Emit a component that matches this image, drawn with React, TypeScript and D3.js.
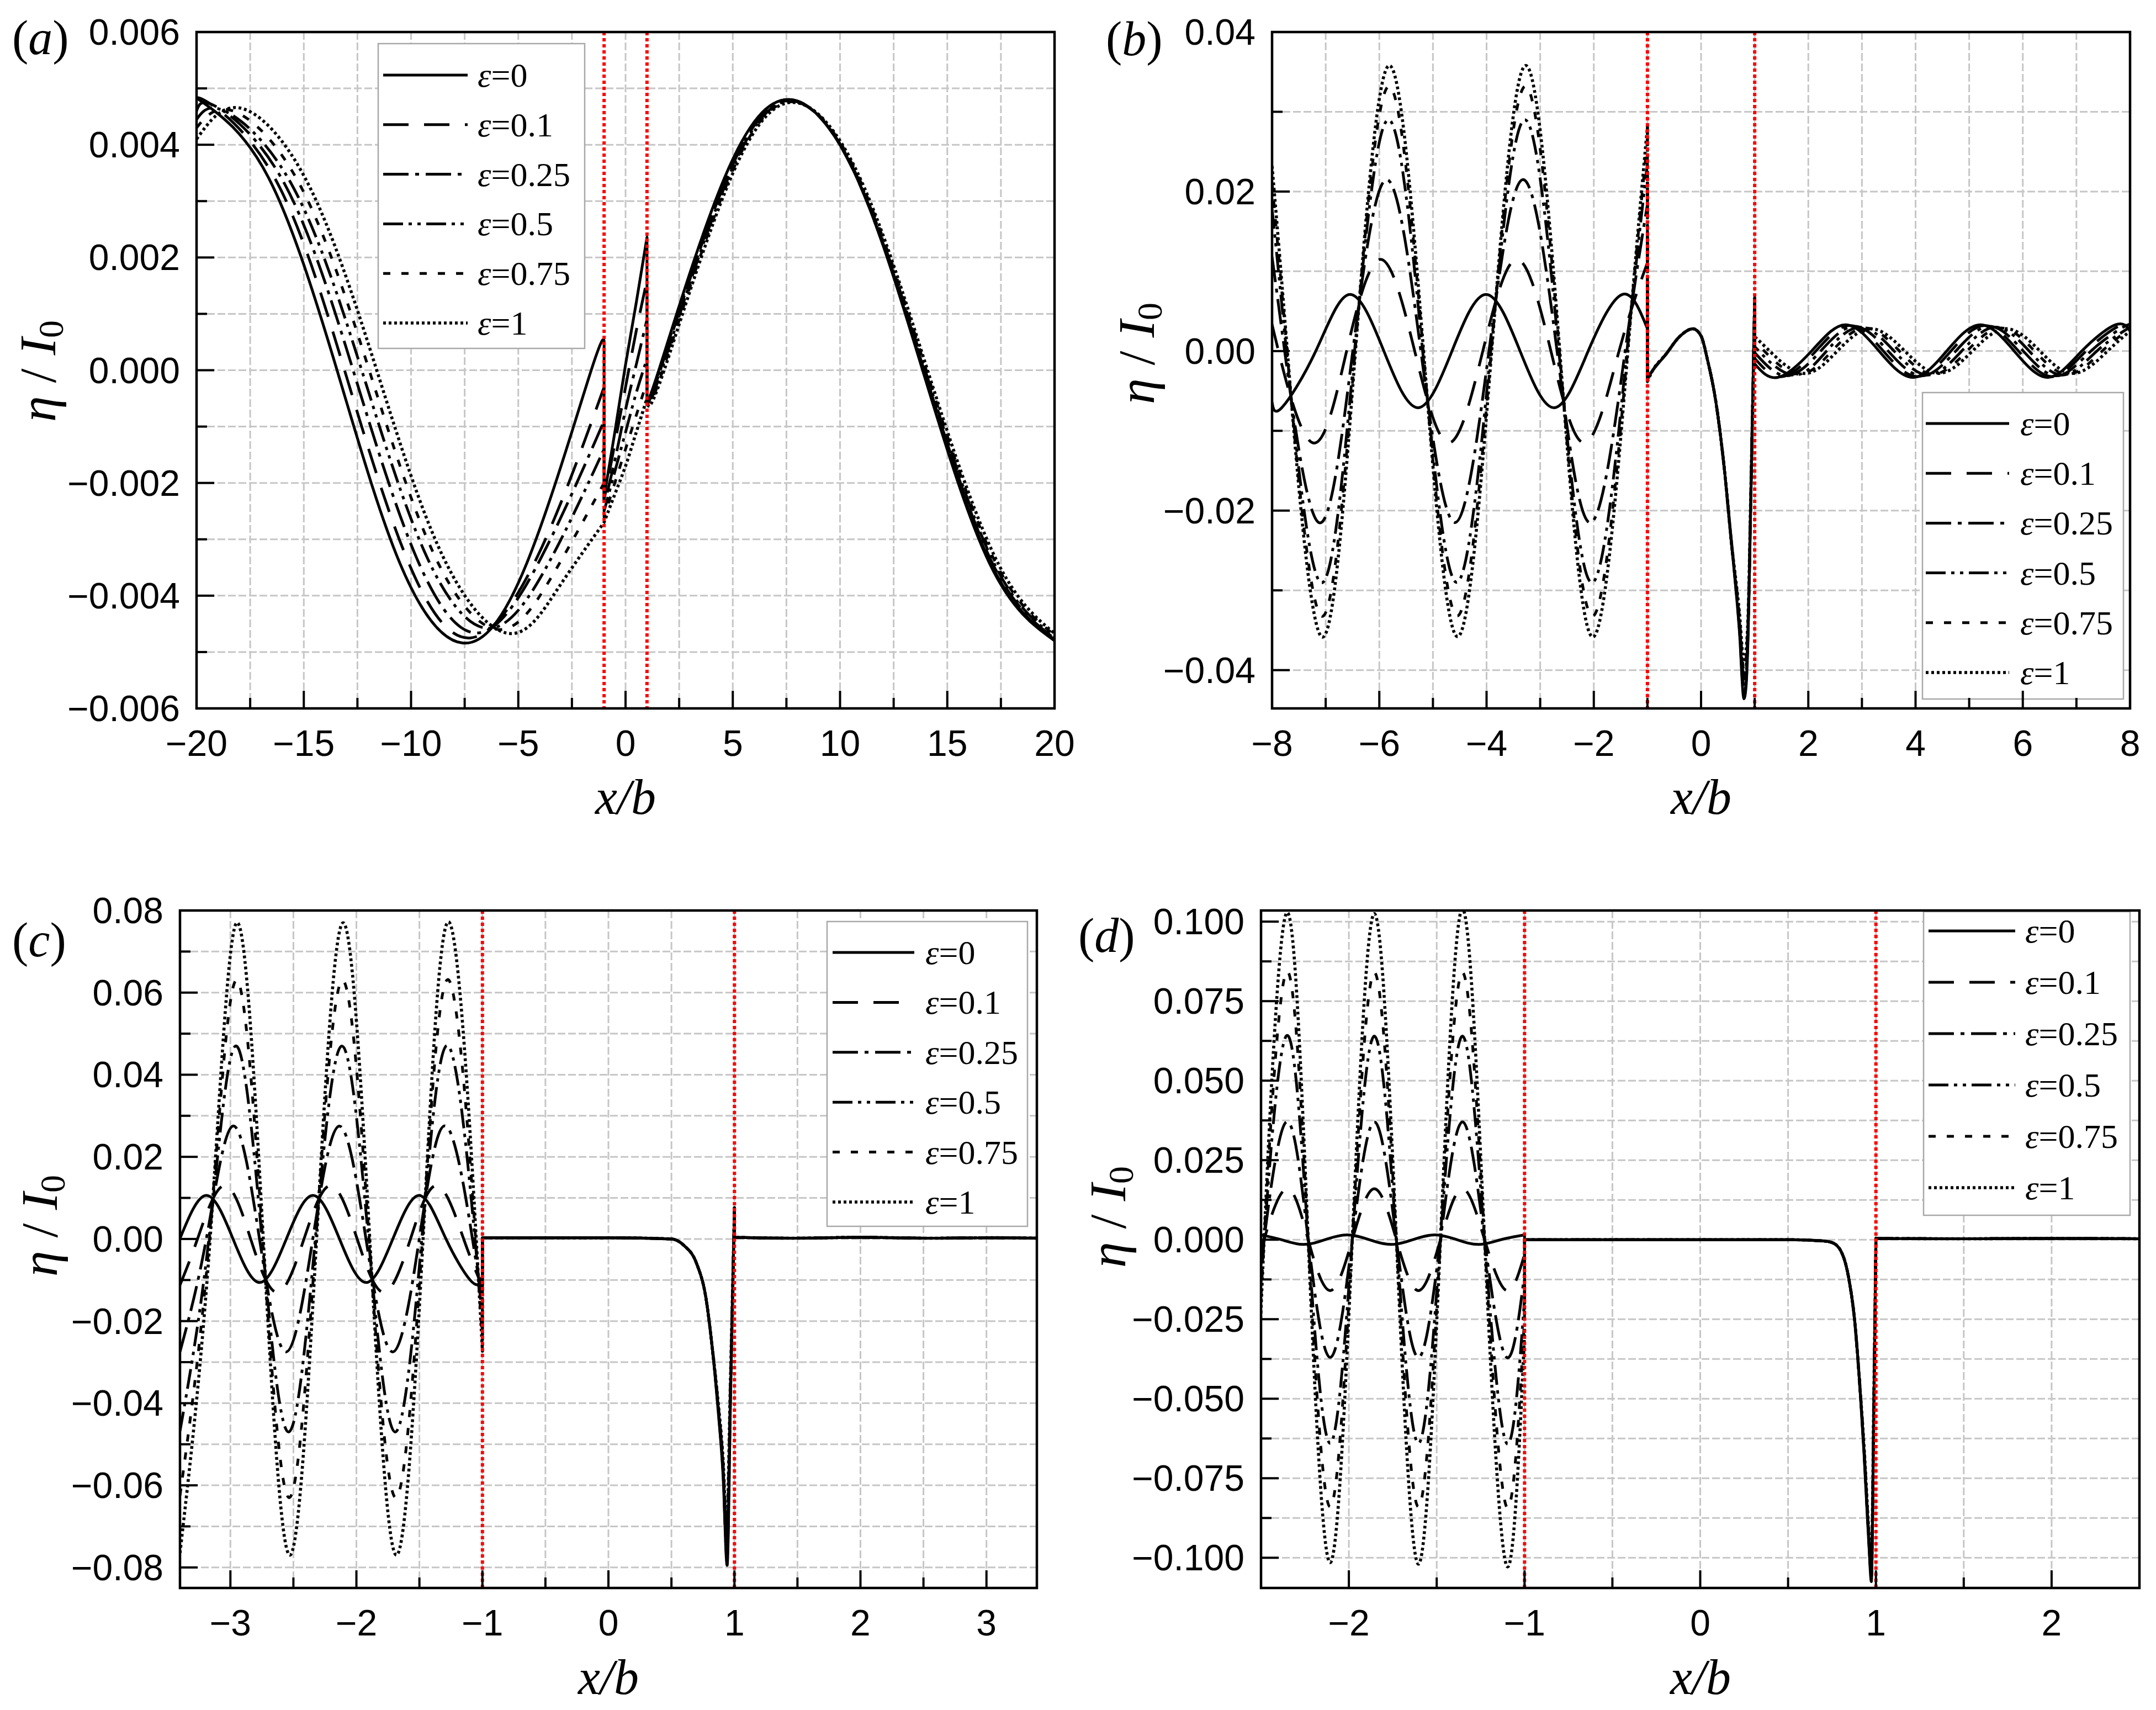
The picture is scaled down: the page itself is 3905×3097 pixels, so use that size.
import React from 'react';
import * as d3 from 'd3';

type Pt = [number, number];
type Series = Pt[];

// ---------------- legend labels & tick labels ----------------
const epsLabels = ['0', '0.1', '0.25', '0.5', '0.75', '1'];

const aXTicks = [-20, -15, -10, -5, 0, 5, 10, 15, 20];
const aYTicks = [-0.006, -0.004, -0.002, 0, 0.002, 0.004, 0.006];
const bXTicks = [-8, -6, -4, -2, 0, 2, 4, 6, 8];
const bYTicks = [-0.04, -0.02, 0, 0.02, 0.04];
const cXTicks = [-3, -2, -1, 0, 1, 2, 3];
const cYTicks = [-0.08, -0.06, -0.04, -0.02, 0, 0.02, 0.04, 0.06, 0.08];
const dXTicks = [-2, -1, 0, 1, 2];
const dYTicks = [-0.1, -0.075, -0.05, -0.025, 0, 0.025, 0.05, 0.075, 0.1];

// ---------------- panel (a) ----------------
const aLeft: Series[] = [
  [[-20, 0.00483], [-16.65, 0.00342], [-13.45, 0], [-10.525, -0.00342], [-7.6, -0.00484], [-4.6, -0.00342], [-1.6, 0], [-1, 0.0004]],
  [[-20, 0.00472], [-19.5, 0.00476], [-16.3, 0.00337], [-13.1, 0], [-10.175, -0.00336], [-7.25, -0.00475], [-4.1, -0.0033], [-1, -0.0003]],
  [[-20, 0.0046], [-19.1, 0.00468], [-15.9, 0.00331], [-12.7, 0], [-9.775, -0.0033], [-6.85, -0.00466], [-3.9, -0.0033], [-1, -0.0009]],
  [[-20, 0.00445], [-18.7, 0.0046], [-15.5, 0.00325], [-12.3, 0], [-9.35, -0.00324], [-6.4, -0.00458], [-3.7, -0.0035], [-1, -0.0014]],
  [[-20, 0.0043], [-18.3, 0.0046], [-15.125, 0.00325], [-11.95, 0], [-8.95, -0.00325], [-5.95, -0.0046], [-3.5, -0.0037], [-1, -0.002]],
  [[-20, 0.0041], [-17.95, 0.00465], [-14.775, 0.00329], [-11.6, 0], [-8.52, -0.0033], [-5.44, -0.00467], [-3.2, -0.0039], [-1, -0.0027]],
];
const aMid: Series[] = [
  [[-1, -0.00225], [-0.5, -0.0011], [0, 0.0001], [0.5, 0.0012], [1, 0.00236]],
  [[-1, -0.0023], [-0.5, -0.0013], [0, -0.0003], [0.5, 0.0007], [1, 0.0016]],
  [[-1, -0.0024], [-0.5, -0.0016], [0, -0.0007], [0.5, 0.0001], [1, 0.0009]],
  [[-1, -0.0025], [-0.5, -0.0018], [0, -0.0011], [0.5, -0.0004], [1, 0.0002]],
  [[-1, -0.0026], [-0.5, -0.002], [0, -0.0014], [0.5, -0.0008], [1, -0.0002]],
  [[-1, -0.0027], [-0.5, -0.0022], [0, -0.0017], [0.5, -0.0011], [1, -0.0005]],
];
const aRight: Series[] = [
  [[1, -0.00045], [1.55, 0], [4.6, 0.0034], [7.7, 0.0048], [10.8, 0.0034], [13.85, 0], [17, -0.00345], [20, -0.0048]],
  [[1, -0.00045], [1.58, 0], [4.65, 0.0034], [7.72, 0.0048], [10.8, 0.0034], [13.88, 0], [17.03, -0.00343], [20, -0.00478]],
  [[1, -0.0005], [1.62, 0], [4.69, 0.00338], [7.76, 0.00478], [10.84, 0.00338], [13.92, 0], [17.07, -0.0034], [20, -0.00476]],
  [[1, -0.00052], [1.68, 0], [4.74, 0.00337], [7.8, 0.00477], [10.88, 0.00337], [13.97, 0], [17.12, -0.00338], [20, -0.00473]],
  [[1, -0.00055], [1.74, 0], [4.8, 0.00337], [7.85, 0.00476], [10.93, 0.00337], [14.02, 0], [17.17, -0.00335], [20, -0.0047]],
  [[1, -0.00058], [1.8, 0], [4.85, 0.00336], [7.9, 0.00475], [10.99, 0.00336], [14.08, 0], [17.23, -0.00332], [20, -0.00467]],
];

// ---------------- panel (b) ----------------
const bLeft: Series[] = [
  [[-8, -0.0064], [-7.82, -0.0071], [-7.185, 0], [-6.55, 0.0071], [-5.915, 0], [-5.28, -0.0071], [-4.645, 0], [-4.01, 0.0071], [-3.375, 0], [-2.74, -0.0071], [-2.105, 0], [-1.47, 0.0071], [-1, 0.0028]],
  [[-8, 0.0034], [-7.88, 0], [-7.245, -0.0115], [-6.61, 0], [-5.975, 0.0115], [-5.34, 0], [-4.705, -0.0115], [-4.07, 0], [-3.435, 0.0115], [-2.8, 0], [-2.165, -0.0115], [-1.53, 0], [-1, 0.0111]],
  [[-8, 0.0118], [-7.765, 0], [-7.13, -0.0215], [-6.495, 0], [-5.86, 0.0215], [-5.225, 0], [-4.59, -0.0215], [-3.955, 0], [-3.32, 0.0215], [-2.685, 0], [-2.05, -0.0215], [-1.415, 0], [-1, 0.0184]],
  [[-8, 0.0178], [-7.732, 0], [-7.097, -0.029], [-6.462, 0], [-5.827, 0.029], [-5.192, 0], [-4.557, -0.029], [-3.922, 0], [-3.287, 0.029], [-2.652, 0], [-2.017, -0.029], [-1.382, 0], [-1, 0.0235]],
  [[-8, 0.0211], [-7.721, 0], [-7.086, -0.0332], [-6.451, 0], [-5.816, 0.0332], [-5.181, 0], [-4.546, -0.0332], [-3.911, 0], [-3.276, 0.0332], [-2.641, 0], [-2.006, -0.0332], [-1.371, 0], [-1, 0.0264]],
  [[-8, 0.0232], [-7.715, 0], [-7.08, -0.0358], [-6.445, 0], [-5.81, 0.0358], [-5.175, 0], [-4.54, -0.0358], [-3.905, 0], [-3.27, 0.0358], [-2.635, 0], [-2.0, -0.0358], [-1.365, 0], [-1, 0.0281]],
];
const bMidHead: Pt[] = [[-0.9, -0.0024], [-0.655, -0.0004], [-0.417, 0.0017], [-0.15, 0.0028], [0, 0.0019], [0.12, -0.0011], [0.27, -0.0061], [0.42, -0.0139], [0.565, -0.0239]];
const bMid: Series[] = [
  [[-1, -0.0033], ...bMidHead, [0.714, -0.035], [0.8, -0.0436], [0.84, -0.042], [0.88, -0.035], [0.93, -0.018], [0.97, -0.004], [1, 0.0067]],
  [[-1, -0.0034], ...bMidHead, [0.714, -0.0347], [0.8, -0.043], [0.84, -0.0415], [0.88, -0.0345], [0.93, -0.0178], [0.97, -0.004], [1, 0.0067]],
  [[-1, -0.0035], ...bMidHead, [0.714, -0.0342], [0.8, -0.042], [0.84, -0.0405], [0.88, -0.034], [0.93, -0.0176], [0.97, -0.004], [1, 0.0067]],
  [[-1, -0.0036], ...bMidHead, [0.714, -0.0337], [0.8, -0.041], [0.84, -0.0395], [0.88, -0.0335], [0.93, -0.0174], [0.97, -0.004], [1, 0.0067]],
  [[-1, -0.0037], ...bMidHead, [0.714, -0.0332], [0.8, -0.04], [0.84, -0.0385], [0.88, -0.033], [0.93, -0.0172], [0.97, -0.004], [1, 0.0067]],
  [[-1, -0.0038], ...bMidHead, [0.714, -0.0327], [0.8, -0.039], [0.84, -0.0375], [0.88, -0.0325], [0.93, -0.017], [0.97, -0.004], [1, 0.0067]],
];
const bRight: Series[] = [
  [[1, -0.0016], [1.43, -0.0033], [2.06, 0], [2.69, 0.0033], [3.32, 0], [3.95, -0.0033], [4.58, 0], [5.21, 0.0033], [5.84, 0], [6.47, -0.0033], [7.1, 0], [7.73, 0.0033], [8, 0.0025]],
  [[1, -0.0009], [1.51, -0.0032], [2.14, 0], [2.77, 0.0032], [3.4, 0], [4.03, -0.0032], [4.66, 0], [5.29, 0.0032], [5.92, 0], [6.55, -0.0032], [7.18, 0], [7.81, 0.0032], [8, 0.0028]],
  [[1, -0.0002], [1.6, -0.0031], [2.23, 0], [2.86, 0.0031], [3.49, 0], [4.12, -0.0031], [4.75, 0], [5.38, 0.0031], [6.01, 0], [6.64, -0.0031], [7.27, 0], [7.9, 0.0031], [8, 0.003]],
  [[1, 0.0006], [1.08, 0], [1.71, -0.003], [2.34, 0], [2.97, 0.003], [3.6, 0], [4.23, -0.003], [4.86, 0], [5.49, 0.003], [6.12, 0], [6.75, -0.003], [7.38, 0], [8, 0.003]],
  [[1, 0.0013], [1.18, 0], [1.81, -0.0029], [2.44, 0], [3.07, 0.0029], [3.7, 0], [4.33, -0.0029], [4.96, 0], [5.59, 0.0029], [6.22, 0], [6.85, -0.0029], [7.48, 0], [8, 0.0028]],
  [[1, 0.0018], [1.28, 0], [1.91, -0.0028], [2.54, 0], [3.17, 0.0028], [3.8, 0], [4.43, -0.0028], [5.06, 0], [5.69, 0.0028], [6.32, 0], [6.95, -0.0028], [7.58, 0], [8, 0.0025]],
];

// ---------------- panel (c) ----------------
const cLeft: Series[] = [
  [[-3.4, 0.0001], [-3.19, 0.0106], [-2.979, 0], [-2.768, -0.0106], [-2.556, 0], [-2.345, 0.0106], [-2.134, 0], [-1.923, -0.0106], [-1.711, 0], [-1.5, 0.0106], [-1.289, 0], [-1.078, -0.0106], [-1, -0.0089]],
  [[-3.4, -0.0112], [-3.261, 0], [-3.05, 0.013], [-2.839, 0], [-2.628, -0.013], [-2.416, 0], [-2.205, 0.013], [-1.994, 0], [-1.783, -0.013], [-1.571, 0], [-1.36, 0.013], [-1.149, 0], [-1, -0.0116]],
  [[-3.4, -0.0275], [-3.191, 0], [-2.98, 0.0275], [-2.769, 0], [-2.558, -0.0275], [-2.346, 0], [-2.135, 0.0275], [-1.924, 0], [-1.713, -0.0275], [-1.501, 0], [-1.29, 0.0275], [-1.079, 0], [-1, -0.0152]],
  [[-3.4, -0.0468], [-3.171, 0], [-2.96, 0.047], [-2.749, 0], [-2.538, -0.047], [-2.326, 0], [-2.115, 0.047], [-1.904, 0], [-1.693, -0.047], [-1.481, 0], [-1.27, 0.047], [-1.059, 0], [-1, -0.0199]],
  [[-3.4, -0.0625], [-3.166, 0], [-2.955, 0.063], [-2.744, 0], [-2.533, -0.063], [-2.321, 0], [-2.11, 0.063], [-1.899, 0], [-1.688, -0.063], [-1.476, 0], [-1.265, 0.063], [-1.054, 0], [-1, -0.0245]],
  [[-3.4, -0.0765], [-3.161, 0], [-2.95, 0.077], [-2.739, 0], [-2.528, -0.077], [-2.316, 0], [-2.105, 0.077], [-1.894, 0], [-1.683, -0.077], [-1.471, 0], [-1.26, 0.077], [-1.049, 0], [-1, -0.0273]],
];
const cMidHead: Pt[] = [[-1, 0.0003], [0, 0.0003], [0.5, 0], [0.6, -0.0016], [0.7, -0.006], [0.775, -0.0146], [0.82, -0.0254]];
const cMid: Series[] = [
  [...cMidHead, [0.87, -0.0416], [0.91, -0.0578], [0.942, -0.0795], [0.97, -0.037], [1, 0.0076]],
  [...cMidHead, [0.87, -0.0412], [0.91, -0.057], [0.941, -0.078], [0.97, -0.036], [1, 0.0076]],
  [...cMidHead, [0.87, -0.0408], [0.91, -0.0562], [0.94, -0.076], [0.97, -0.035], [1, 0.0076]],
  [...cMidHead, [0.87, -0.0404], [0.91, -0.0554], [0.939, -0.074], [0.97, -0.034], [1, 0.0076]],
  [...cMidHead, [0.87, -0.04], [0.91, -0.0546], [0.938, -0.072], [0.97, -0.033], [1, 0.0076]],
  [...cMidHead, [0.87, -0.0396], [0.91, -0.0538], [0.937, -0.07], [0.97, -0.032], [1, 0.0076]],
];
const cRight: Series = [[1, 0.0004], [1.5, 0.0002], [2, 0.0004], [2.5, 0.0002], [3, 0.0003], [3.4, 0.0002]];

// ---------------- panel (d) ----------------
const dLeft: Series[] = [
  [[-2.5, 0.0015], [-2.385, 0], [-2.26, -0.0015], [-2.135, 0], [-2.01, 0.0015], [-1.885, 0], [-1.76, -0.0015], [-1.635, 0], [-1.51, 0.0015], [-1.385, 0], [-1.26, -0.0015], [-1.135, 0], [-1, 0.0015]],
  [[-2.5, -0.0035], [-2.4825, 0], [-2.357, 0.016], [-2.2315, 0], [-2.106, -0.016], [-1.9805, 0], [-1.855, 0.016], [-1.7295, 0], [-1.604, -0.016], [-1.4785, 0], [-1.353, 0.016], [-1.2275, 0], [-1.102, -0.016], [-1, -0.0046]],
  [[-2.5, -0.008], [-2.4825, 0], [-2.357, 0.037], [-2.2315, 0], [-2.106, -0.037], [-1.9805, 0], [-1.855, 0.037], [-1.7295, 0], [-1.604, -0.037], [-1.4785, 0], [-1.353, 0.037], [-1.2275, 0], [-1.102, -0.037], [-1, -0.0107]],
  [[-2.5, -0.0139], [-2.4825, 0], [-2.357, 0.064], [-2.2315, 0], [-2.106, -0.064], [-1.9805, 0], [-1.855, 0.064], [-1.7295, 0], [-1.604, -0.064], [-1.4785, 0], [-1.353, 0.064], [-1.2275, 0], [-1.102, -0.064], [-1, -0.0185]],
  [[-2.5, -0.0183], [-2.4825, 0], [-2.357, 0.084], [-2.2315, 0], [-2.106, -0.084], [-1.9805, 0], [-1.855, 0.084], [-1.7295, 0], [-1.604, -0.084], [-1.4785, 0], [-1.353, 0.084], [-1.2275, 0], [-1.102, -0.084], [-1, -0.0243]],
  [[-2.5, -0.0223], [-2.4825, 0], [-2.357, 0.1025], [-2.2315, 0], [-2.106, -0.1015], [-1.9805, 0], [-1.855, 0.1025], [-1.7295, 0], [-1.604, -0.102], [-1.4785, 0], [-1.353, 0.104], [-1.2275, 0], [-1.102, -0.1025], [-1, -0.0297]],
];
const dMidHead: Pt[] = [[-1, 0], [0, 0], [0.5, 0], [0.7, -0.0004], [0.75, -0.0009], [0.8, -0.0035], [0.845, -0.012], [0.88, -0.026], [0.906, -0.044]];
const dMid: Series[] = [
  [...dMidHead, [0.933, -0.068], [0.96, -0.096], [0.974, -0.1075], [0.988, -0.055], [1, 0]],
  [...dMidHead, [0.933, -0.0675], [0.96, -0.0952], [0.974, -0.1065], [0.988, -0.054], [1, 0]],
  [...dMidHead, [0.933, -0.067], [0.96, -0.0944], [0.974, -0.1055], [0.988, -0.053], [1, 0]],
  [...dMidHead, [0.933, -0.0665], [0.96, -0.0936], [0.974, -0.1045], [0.988, -0.052], [1, 0]],
  [...dMidHead, [0.933, -0.066], [0.96, -0.0928], [0.974, -0.1035], [0.988, -0.051], [1, 0]],
  [...dMidHead, [0.933, -0.0655], [0.96, -0.092], [0.974, -0.1025], [0.988, -0.05], [1, 0]],
];
const dRight: Series = [[1, 0.0004], [1.5, 0.0003], [2, 0.0004], [2.5, 0.0003]];

// ---------------- styles ----------------
const W = 3905;
const H = 3097;
const SANS = "'Liberation Sans', Arial, Helvetica, sans-serif";
const SERIF = "'Liberation Serif', 'Times New Roman', Times, serif";
const dashes = ['none', '46 28', '46 12 7 12', '36 10 6 10 6 10', '13 20', '5 5'];
const widths = [5, 5, 5, 5, 5, 5.6];

interface LegendCfg { box: [number, number, number, number]; y0: number; dy: number; lx: [number, number]; tx: number; }
interface PanelCfg {
  key: string; l: number; r: number; t: number; b: number;
  xd: [number, number]; yd: [number, number];
  xTicks: number[]; yTicks: number[]; xMinor: number; yMinor: number; fmt: string;
  left: Series[]; mid: Series[]; right: Series[];
  labelPos: [number, number]; yTitle: [number, number]; xTitle: [number, number];
  legend: LegendCfg;
}

const panels: PanelCfg[] = [
  {
    key: 'a', l: 356, r: 1910, t: 58, b: 1283, xd: [-20, 20], yd: [-0.006, 0.006],
    xTicks: aXTicks, yTicks: aYTicks, xMinor: 2.5, yMinor: 0.001, fmt: '.3f',
    left: aLeft, mid: aMid, right: aRight,
    labelPos: [22, 98], yTitle: [72, 672], xTitle: [1133, 1474],
    legend: { box: [685, 79, 1059, 631], y0: 136, dy: 89.8, lx: [694, 847], tx: 865 },
  },
  {
    key: 'b', l: 2304, r: 3858, t: 58, b: 1283, xd: [-8, 8], yd: [-0.0448, 0.04],
    xTicks: bXTicks, yTicks: bYTicks, xMinor: 1, yMinor: 0.01, fmt: '.2f',
    left: bLeft, mid: bMid, right: bRight,
    labelPos: [2003, 100], yTitle: [2062, 640], xTitle: [3081, 1474],
    legend: { box: [3482, 711, 3846, 1266], y0: 767, dy: 90.2, lx: [3488, 3639], tx: 3659 },
  },
  {
    key: 'c', l: 326, r: 1878, t: 1649, b: 2876, xd: [-3.4, 3.4], yd: [-0.085, 0.08],
    xTicks: cXTicks, yTicks: cYTicks, xMinor: 0.5, yMinor: 0.01, fmt: '.2f',
    left: cLeft, mid: cMid, right: epsLabels.map(() => cRight),
    labelPos: [22, 1732], yTitle: [75, 2220], xTitle: [1102, 3068],
    legend: { box: [1498, 1669, 1861, 2221], y0: 1725, dy: 90.4, lx: [1508, 1656], tx: 1676 },
  },
  {
    key: 'd', l: 2284, r: 3875, t: 1649, b: 2876, xd: [-2.5, 2.5], yd: [-0.1095, 0.1035],
    xTicks: dXTicks, yTicks: dYTicks, xMinor: 0.5, yMinor: 0.0125, fmt: '.3f',
    left: dLeft, mid: dMid, right: epsLabels.map(() => dRight),
    labelPos: [1953, 1724], yTitle: [2010, 2204], xTitle: [3080, 3068],
    legend: { box: [3484, 1651, 3858, 2201], y0: 1686, dy: 93, lx: [3493, 3650], tx: 3668 },
  },
];

function gridValues(d: [number, number], step: number): number[] {
  const k0 = Math.ceil(d[0] / step - 1e-6);
  const k1 = Math.floor(d[1] / step + 1e-6);
  return d3.range(k0, k1 + 1).map((k) => +(k * step).toFixed(6));
}

function isMajor(v: number, ticks: number[], step: number): boolean {
  return ticks.some((t) => Math.abs(t - v) < step * 1e-3);
}

function Panel({ p }: { p: PanelCfg }) {
  const x = d3.scaleLinear().domain(p.xd).range([p.l, p.r]);
  const y = d3.scaleLinear().domain(p.yd).range([p.b, p.t]);
  const fmt = d3.format(p.fmt);
  const xg = gridValues(p.xd, p.xMinor);
  const yg = gridValues(p.yd, p.yMinor);

  const mkLine = (curve: d3.CurveFactory) =>
    d3.line<Pt>().x((q) => x(q[0])).y((q) => y(q[1])).curve(curve);

  const paths = epsLabels.map((_, i) => {
    const segs: [Pt[], d3.CurveFactory][] = [
      [p.left[i], d3.curveNatural],
      [p.mid[i], d3.curveMonotoneX],
      [p.right[i], d3.curveNatural],
    ];
    let d = '';
    segs.forEach(([pts, c], j) => {
      const s = mkLine(c)(pts) || '';
      d += j === 0 ? s : 'L' + s.slice(1);
    });
    return d;
  });

  const clipId = `clip-${p.key}`;
  const lg = p.legend;

  return (
    <g>
      <defs>
        <clipPath id={clipId}>
          <rect x={p.l} y={p.t} width={p.r - p.l} height={p.b - p.t} />
        </clipPath>
      </defs>
      {/* grid */}
      <g stroke="#c6c6c6" strokeWidth={3} strokeDasharray="14 5" fill="none">
        {xg.filter((v) => Math.abs(x(v) - p.l) > 3 && Math.abs(x(v) - p.r) > 3).map((v) => (
          <line key={`gx${v}`} x1={x(v)} x2={x(v)} y1={p.t} y2={p.b} />
        ))}
        {yg.filter((v) => Math.abs(y(v) - p.t) > 3 && Math.abs(y(v) - p.b) > 3).map((v) => (
          <line key={`gy${v}`} x1={p.l} x2={p.r} y1={y(v)} y2={y(v)} />
        ))}
      </g>
      {/* curves */}
      <g clipPath={`url(#${clipId})`} fill="none" stroke="#000" strokeLinejoin="round">
        {paths.map((d, i) => (
          <path key={i} d={d} strokeWidth={widths[i]} strokeDasharray={dashes[i]} />
        ))}
      </g>
      {/* red boundaries */}
      <g stroke="#ff0000" strokeWidth={6} strokeDasharray="6 5">
        {[-1, 1].map((v) => (
          <line key={v} x1={x(v)} x2={x(v)} y1={p.t} y2={p.b} />
        ))}
      </g>
      {/* legend */}
      <g>
        <rect x={lg.box[0]} y={lg.box[1]} width={lg.box[2] - lg.box[0]} height={lg.box[3] - lg.box[1]} fill="#fff" stroke="#a8a8a8" strokeWidth={2.5} />
        {epsLabels.map((e, i) => {
          const yy = lg.y0 + i * lg.dy;
          return (
            <g key={e}>
              <line x1={lg.lx[0]} x2={lg.lx[1]} y1={yy} y2={yy} stroke="#000" strokeWidth={widths[i]} strokeDasharray={dashes[i]} />
              <text x={lg.tx} y={yy + 21} fontFamily={SERIF} fontSize={62} fill="#000">
                <tspan fontStyle="italic">ε</tspan>
                <tspan>={e}</tspan>
              </text>
            </g>
          );
        })}
      </g>
      {/* frame */}
      <rect x={p.l} y={p.t} width={p.r - p.l} height={p.b - p.t} fill="none" stroke="#000" strokeWidth={4.5} />
      {/* ticks */}
      <g stroke="#000" strokeWidth={4}>
        {yg.map((v) => {
          const len = isMajor(v, p.yTicks, p.yMinor) ? 32 : 19;
          return <line key={`ty${v}`} x1={p.l} x2={p.l + len} y1={y(v)} y2={y(v)} />;
        })}
        {xg.map((v) => {
          const len = isMajor(v, p.xTicks, p.xMinor) ? 32 : 19;
          return <line key={`tx${v}`} x1={x(v)} x2={x(v)} y1={p.b} y2={p.b - len} />;
        })}
      </g>
      {/* tick labels */}
      <g fontFamily={SANS} fontSize={66} fill="#000">
        {p.yTicks.map((v) => (
          <text key={`ly${v}`} x={p.l - 30} y={y(v) + 23} textAnchor="end">{fmt(v)}</text>
        ))}
        {p.xTicks.map((v) => (
          <text key={`lx${v}`} x={x(v)} y={p.b + 86} textAnchor="middle">{d3.format('d')(v)}</text>
        ))}
      </g>
      {/* panel label */}
      <text x={p.labelPos[0]} y={p.labelPos[1]} fontFamily={SERIF} fontSize={88} fill="#000">
        <tspan>(</tspan>
        <tspan fontStyle="italic">{p.key}</tspan>
        <tspan>)</tspan>
      </text>
      {/* axis titles */}
      <text x={p.xTitle[0]} y={p.xTitle[1]} fontFamily={SERIF} fontSize={90} fontStyle="italic" textAnchor="middle" fill="#000">x/b</text>
      <text transform={`translate(${p.yTitle[0] + 28},${p.yTitle[1]}) rotate(-90)`} fontFamily={SERIF} fontSize={94} textAnchor="middle" fill="#000">
        <tspan fontStyle="italic">η</tspan>
        <tspan dx={24}>/</tspan>
        <tspan dx={24} fontStyle="italic">I</tspan>
        <tspan fontSize={64} dy={14}>0</tspan>
      </text>
    </g>
  );
}

export default function App() {
  return (
    <svg
      width={W}
      height={H}
      viewBox={`0 0 ${W} ${H}`}
      style={{ position: 'absolute', left: 0, top: 0, background: '#fff' }}
      xmlns="http://www.w3.org/2000/svg"
    >
      <rect x={0} y={0} width={W} height={H} fill="#fff" />
      {panels.map((p) => (
        <Panel key={p.key} p={p} />
      ))}
    </svg>
  );
}
